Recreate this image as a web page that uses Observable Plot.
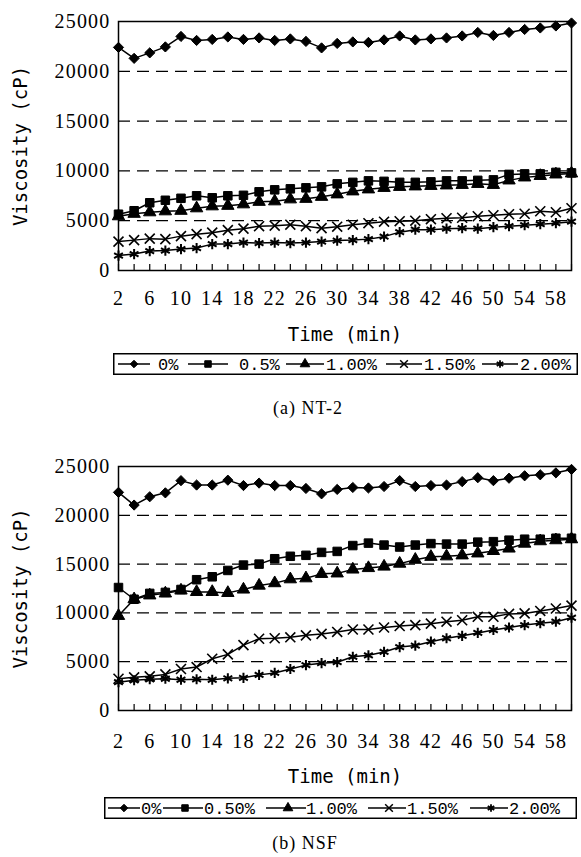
<!DOCTYPE html>
<html><head><meta charset="utf-8">
<script src="https://cdn.jsdelivr.net/npm/d3@7"></script>
<script src="https://cdn.jsdelivr.net/npm/@observablehq/plot@0.6"></script>
<style>
body{margin:0;background:#fff;}
#root{position:relative;width:581px;height:857px;overflow:hidden;background:#fff}
.panel{position:absolute;left:0}
.legend{position:absolute}
.cap{position:absolute;font-family:"Liberation Serif",serif;font-size:18px;letter-spacing:1px;transform:translate(-50%,-50%);white-space:nowrap;color:#000}
g[aria-label="y-axis tick label"] text, g[aria-label="x-axis tick label"] text{letter-spacing:1.2px}
</style></head><body><div id="root"></div>
<script>
// ---- data ----
const times = [2,4,6,8,10,12,14,16,18,20,22,24,26,28,30,32,34,36,38,40,42,44,46,48,50,52,54,56,58,60];
const xTickLabels = [2,6,10,14,18,22,26,30,34,38,42,46,50,54,58];
const yTickLabels = [0,5000,10000,15000,20000,25000];
const gridLines = [5000,10000,15000,20000];

// (a) NT-2
const nt_0   = [22400,21300,21850,22450,23500,23100,23200,23450,23200,23350,23100,23250,23000,22350,22800,22950,22900,23150,23550,23150,23250,23350,23550,23900,23600,23900,24200,24350,24550,24850];
const nt_05  = [5650,6000,6800,7050,7250,7500,7300,7500,7550,7900,8100,8200,8300,8400,8700,8850,9000,8950,8850,8850,8900,9000,9000,9050,9100,9650,9700,9700,9850,9800];
const nt_100 = [5450,5700,5850,5950,6000,6250,6450,6500,6650,6900,6950,7150,7200,7400,7650,7950,8150,8300,8400,8450,8500,8550,8600,8700,8600,9050,9350,9500,9650,9750];
const nt_150 = [2900,3050,3200,3150,3450,3650,3800,4050,4200,4450,4500,4600,4450,4250,4400,4600,4750,4900,4950,5000,5150,5250,5300,5450,5550,5650,5700,5950,5850,6250];
const nt_200 = [1500,1650,1950,2000,2150,2250,2650,2650,2800,2750,2800,2750,2800,2900,3000,3050,3150,3400,3850,4100,4100,4200,4250,4200,4350,4450,4550,4650,4750,4900];

// (b) NSF
const nsf_0   = [22350,21050,21900,22300,23550,23100,23100,23600,23050,23300,23050,23050,22750,22200,22650,22850,22800,22950,23550,22950,23050,23100,23450,23850,23550,23800,24050,24150,24350,24700];
const nsf_050 = [12600,11400,12000,12100,12400,13400,13700,14350,14900,15000,15550,15800,15900,16200,16300,16900,17150,16950,16750,16950,17100,17050,17050,17250,17300,17450,17550,17550,17650,17650];
const nsf_100 = [9700,11400,11800,12000,12300,12150,12150,12050,12400,12800,13050,13450,13550,14000,14050,14450,14600,14750,15050,15450,15750,15800,15900,16100,16350,16600,17100,17350,17450,17550];
const nsf_150 = [3250,3400,3500,3700,4250,4450,5300,5750,6700,7350,7400,7500,7700,7850,8050,8300,8300,8500,8650,8750,8900,9100,9250,9600,9600,9900,9950,10200,10450,10750];
const nsf_200 = [2900,3100,3200,3250,3150,3200,3150,3300,3350,3650,3850,4250,4650,4850,4950,5500,5650,6000,6500,6650,7050,7400,7650,7950,8250,8500,8750,8950,9100,9500];

const legendA = ["0%","0.5%","1.00%","1.50%","2.00%"];
const legendB = ["0%","0.50%","1.00%","1.50%","2.00%"];

// ---- styles ----
const symStyles = [
  {symbol:"diamond2", r:4.6, fill:"black", stroke:"black", strokeWidth:1},
  {symbol:"square",   r:4.8, fill:"black", stroke:"black", strokeWidth:1},
  {symbol:"triangle", r:4.6, fill:"black", stroke:"black", strokeWidth:1},
  {symbol:"times",    r:4.6, fill:"none",  stroke:"black", strokeWidth:1.6},
  {symbol:"asterisk", r:4.8, fill:"none",  stroke:"black", strokeWidth:2}
];

function panel(seriesArr, cfg) {
  const frameH = cfg.height - cfg.marginTop - cfg.marginBottom;
  const marks = [
    Plot.ruleY(gridLines, {stroke:"black", strokeWidth:1.2, strokeDasharray:"12,7"}),
    Plot.frame({stroke:"black", strokeWidth:1.5}),
    Plot.tickX(times, {x:d=>d, insetTop: frameH - 6, stroke:"black", strokeWidth:1.2}),
    Plot.axisY(yTickLabels, {tickSize:0, tickPadding:8, tickFormat:d=>String(d), label:null, fontFamily:"Liberation Serif", fontSize:20, fill:"black"}),
    Plot.axisX(xTickLabels, {tickSize:0, tickPadding:cfg.xPad, tickFormat:d=>String(d), label:null, fontFamily:"Liberation Serif", fontSize:20, fill:"black"}),
    Plot.text(["Viscosity (cP)"], {frameAnchor:"left", dx:-98, rotate:-90, textAnchor:"middle", lineAnchor:"middle", fontFamily:"DejaVu Sans Mono", fontSize:19, fill:"black"}),
    Plot.text(["Time (min)"], {frameAnchor:"bottom", dy:cfg.titleDy, textAnchor:"middle", lineAnchor:"middle", fontFamily:"DejaVu Sans Mono", fontSize:19, fill:"black"})
  ];
  seriesArr.forEach((vals) => {
    const data = vals.map((v,i)=>({t:times[i], v}));
    marks.push(Plot.line(data, {x:"t", y:"v", stroke:"black", strokeWidth:1.5}));
  });
  seriesArr.forEach((vals, k) => {
    const data = vals.map((v,i)=>({t:times[i], v}));
    marks.push(Plot.dot(data, {x:"t", y:"v", ...symStyles[k]}));
  });
  return Plot.plot({
    width:581, height:cfg.height,
    marginTop:cfg.marginTop, marginLeft:118, marginRight:10, marginBottom:cfg.marginBottom,
    x:{domain:[2,60], label:null}, y:{domain:[0,25000], label:null},
    style:{background:"white", color:"black", overflow:"visible"},
    marks
  });
}

function legend(labels, cfg) {
  const W = cfg.right - cfg.left, H = cfg.bottom - cfg.top;
  const svg = d3.create("svg").attr("width", W).attr("height", H)
    .attr("class","legend").style("left", cfg.left+"px").style("top", cfg.top+"px");
  svg.append("rect").attr("x",0.75).attr("y",0.75).attr("width",W-1.5).attr("height",H-1.5)
    .attr("fill","white").attr("stroke","black").attr("stroke-width",1.5);
  const cy = H/2;
  const symTypes = [
    {type:d3.symbolDiamond2, size:36, fill:"black", sw:1},
    {type:d3.symbolSquare, size:42, fill:"black", sw:1},
    {type:d3.symbolTriangle, size:40, fill:"black", sw:1},
    {type:d3.symbolTimes, size:40, fill:"none", sw:1.5},
    {type:d3.symbolAsterisk, size:40, fill:"none", sw:1.8}
  ];
  labels.forEach((lab, i) => {
    const it = cfg.items[i];
    const x0 = it[0]-cfg.left, x1 = it[1]-cfg.left, xs = it[2]-cfg.left, xt = it[3]-cfg.left;
    svg.append("line").attr("x1",x0).attr("x2",x1).attr("y1",cy).attr("y2",cy).attr("stroke","black").attr("stroke-width",1.5);
    const s = symTypes[i];
    svg.append("path").attr("d", d3.symbol(s.type, s.size)()).attr("transform",`translate(${xs},${cy})`)
      .attr("fill", s.fill).attr("stroke","black").attr("stroke-width", s.sw);
    svg.append("text").attr("x", xt).attr("y", cy).attr("dy","0.35em")
      .attr("font-family","Liberation Mono").attr("font-size",17).attr("fill","black").text(lab);
  });
  return svg.node();
}

const root = document.getElementById("root");

const pA = panel([nt_0, nt_05, nt_100, nt_150, nt_200], {height:345, marginTop:21, marginBottom:75, xPad:20, titleDy:64});
pA.classList.add("panel"); pA.style.top = "0px";
root.appendChild(pA);

root.appendChild(legend(legendA, {left:113, right:578, top:353, bottom:375,
  items:[[118,150,134,158],[188,228,208,239],[286,324,305,326],[386,422,404,424],[482,518,500,520]]}));

const capA = document.createElement("div"); capA.className="cap"; capA.textContent="(a) NT-2";
capA.style.left="308px"; capA.style.top="408px"; root.appendChild(capA);

const pB = panel([nsf_0, nsf_050, nsf_100, nsf_150, nsf_200], {height:345, marginTop:21, marginBottom:80, xPad:23, titleDy:66});
pB.classList.add("panel"); pB.style.top = "445px";
root.appendChild(pB);

root.appendChild(legend(legendB, {left:104, right:577, top:797, bottom:819,
  items:[[108,140,124,141],[163,203,185,204],[266,306,288,306],[368,406,389,407],[470,508,491,509]]}));

const capB = document.createElement("div"); capB.className="cap"; capB.textContent="(b) NSF";
capB.style.left="305px"; capB.style.top="843px"; root.appendChild(capB);
</script></body></html>
